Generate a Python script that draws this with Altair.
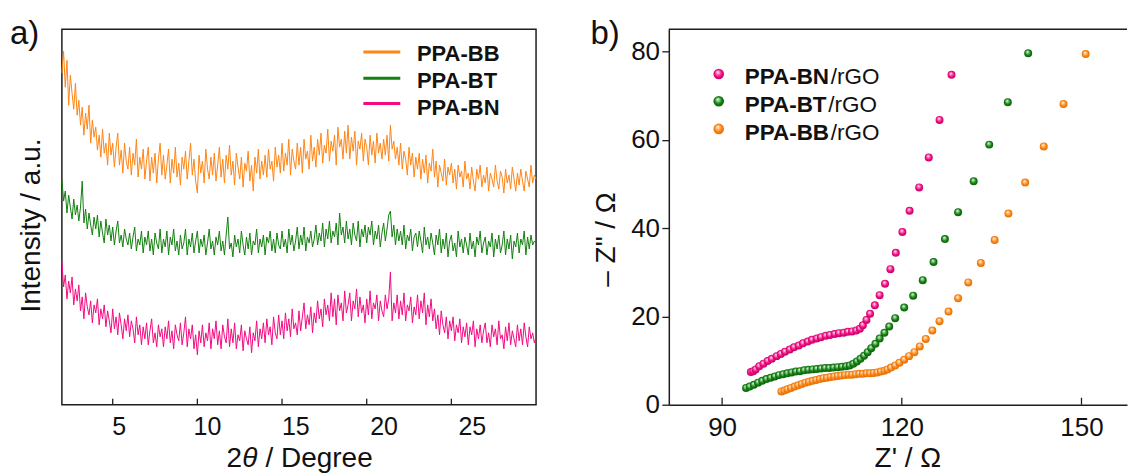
import altair as alt
import pandas as pd

FONT = "Liberation Sans"
AX = "#1e1e1e"
TXT = "#111111"

# ---------------- panel a: XRD patterns (2theta grid 2.0 .. 30.0, step 0.1) ----------------
TWO_THETA = [round(2.0 + 0.1 * i, 1) for i in range(281)]

XRD_BB = [
    332, 354, 318, 345, 300, 330, 312, 296, 322, 290,
    305, 280, 298, 270, 292, 276, 300, 262, 285, 268,
    278, 255, 270, 248, 276, 252, 262, 240, 272, 250,
    262, 238, 258, 272, 240, 255, 232, 262, 244, 236,
    258, 230, 252, 240, 266, 228, 248, 236, 256, 226,
    244, 258, 224, 248, 232, 252, 222, 246, 262, 230,
    250, 226, 240, 256, 222, 246, 232, 258, 228, 242,
    220, 248, 236, 254, 226, 244, 262, 230, 246, 224,
    212, 250, 232, 244, 222, 256, 236, 226, 248, 230,
    252, 224, 240, 258, 228, 246, 222, 250, 236, 260,
    230, 244, 220, 252, 238, 226, 248, 218, 242, 234,
    254, 224, 240, 214, 248, 232, 256, 226, 244, 230,
    250, 228, 256, 236, 244, 224, 258, 238, 250, 232,
    262, 234, 252, 240, 266, 230, 256, 244, 236, 262,
    240, 258, 232, 266, 246, 254, 236, 270, 244, 258,
    238, 266, 250, 272, 242, 260, 252, 276, 244, 264,
    254, 270, 240, 278, 258, 266, 246, 274, 252, 280,
    246, 268, 254, 274, 240, 264, 256, 272, 244, 266,
    258, 240, 270, 250, 264, 242, 272, 252, 262, 246,
    266, 250, 270, 244, 280, 256, 264, 246, 258, 240,
    262, 236, 254, 246, 230, 258, 240, 252, 228, 248,
    236, 252, 226, 246, 232, 250, 222, 242, 234, 256,
    228, 244, 218, 240, 232, 224, 246, 220, 238, 230,
    242, 222, 236, 216, 240, 228, 234, 218, 244, 226,
    232, 216, 238, 224, 214, 236, 226, 240, 218, 230,
    222, 238, 214, 232, 226, 218, 240, 224, 216, 234,
    228, 212, 236, 222, 230, 216, 238, 226, 214, 232,
    220, 236, 224, 214, 234, 226, 218, 240, 222, 230,
    226,
]
XRD_BT = [
    226, 204, 214, 192, 210, 198, 186, 206, 190, 200,
    184, 198, 224, 182, 196, 176, 192, 180, 170, 188,
    176, 190, 168, 184, 172, 162, 186, 170, 180, 164,
    178, 160, 174, 184, 162, 170, 158, 176, 166, 160,
    172, 156, 168, 178, 154, 166, 160, 174, 152, 168,
    160, 174, 154, 166, 150, 172, 162, 156, 176, 152,
    166, 158, 174, 150, 168, 160, 176, 154, 164, 150,
    170, 156, 162, 176, 150, 166, 158, 172, 152, 164,
    174, 152, 166, 158, 170, 150, 162, 176, 156, 164,
    150, 168, 160, 174, 154, 164, 150, 170, 188, 156,
    162, 148, 170, 158, 166, 152, 174, 160, 150, 168,
    156, 172, 150, 164, 160, 176, 152, 166, 158, 170,
    150, 168, 162, 174, 154, 166, 152, 172, 160, 156,
    174, 158, 166, 152, 176, 160, 170, 154, 164, 178,
    156, 170, 160, 178, 154, 168, 162, 174, 158, 166,
    180, 160, 172, 164, 182, 158, 176, 166, 184, 162,
    174, 168, 182, 160, 192, 170, 178, 162, 184, 166,
    176, 160, 182, 170, 164, 184, 158, 176, 168, 180,
    162, 178, 170, 184, 160, 174, 166, 180, 158, 172,
    182, 164, 176, 190, 194, 168, 180, 160, 176, 164,
    174, 160, 180, 156, 170, 164, 176, 154, 168, 172,
    158, 174, 164, 152, 178, 160, 168, 156, 172, 162,
    150, 170, 160, 176, 152, 166, 156, 172, 148, 164,
    170, 154, 162, 148, 174, 158, 166, 152, 168, 160,
    150, 172, 156, 164, 148, 168, 160, 174, 152, 162,
    168, 150, 164, 158, 172, 148, 166, 156, 170, 152,
    160, 174, 150, 166, 156, 170, 146, 164, 158, 172,
    152, 166, 160, 174, 150, 168, 156, 170, 160, 164,
    162,
]
XRD_BN = [
    144, 118, 130, 106, 124, 112, 128, 100, 116, 104,
    120, 94, 108, 86, 112, 98, 90, 104, 82, 100,
    92, 106, 80, 96, 86, 100, 78, 94, 84, 72,
    96, 76, 88, 70, 92, 80, 66, 86, 74, 90,
    68, 84, 76, 62, 88, 70, 80, 60, 78, 66,
    82, 60, 74, 86, 62, 72, 58, 80, 68, 76,
    58, 78, 66, 84, 62, 74, 56, 80, 70, 64,
    82, 60, 72, 88, 58, 76, 66, 80, 56, 70,
    50, 74, 62, 80, 58, 72, 64, 82, 56, 76,
    66, 84, 60, 74, 56, 80, 68, 62, 86, 58,
    76, 62, 82, 56, 70, 64, 80, 54, 74, 66,
    60, 78, 52, 72, 64, 84, 58, 76, 66, 82,
    62, 86, 70, 78, 60, 88, 72, 66, 90, 70,
    84, 66, 92, 74, 86, 68, 96, 76, 82, 70,
    94, 74, 88, 102, 76, 90, 80, 98, 72, 92,
    82, 104, 86, 96, 78, 106, 90, 100, 84, 112,
    88, 106, 80, 110, 94, 102, 84, 114, 92, 100,
    112, 84, 104, 96, 116, 88, 108, 92, 100, 82,
    106, 90, 114, 86, 102, 96, 110, 84, 104, 94,
    88, 110, 96, 106, 133, 84, 102, 92, 110, 86,
    104, 90, 112, 84, 100, 94, 108, 82, 98, 90,
    110, 86, 104, 92, 112, 80, 100, 88, 106, 84,
    96, 76, 90, 70, 94, 80, 72, 88, 66, 84,
    74, 88, 64, 80, 72, 86, 62, 78, 68, 82,
    60, 78, 70, 84, 58, 76, 66, 80, 62, 74,
    82, 62, 72, 58, 80, 68, 76, 60, 84, 66,
    70, 56, 78, 64, 82, 60, 74, 66, 58, 80,
    64, 76, 60, 82, 68, 58, 78, 66, 72, 62,
    68,
]
XRD_SERIES = ["PPA-BB", "PPA-BT", "PPA-BN"]
TICKS_A = [5, 10, 15, 20, 25]

# ---------------- panel b: Nyquist plots ----------------
BN_ZRE = [94.8, 95.2, 95.6, 96.2, 96.9, 97.6, 98.3, 99.1, 99.8, 100.5, 101.3, 102.0, 102.8, 103.5,
          104.3, 105.0, 105.8, 106.5, 107.3, 108.0, 108.8, 109.5, 110.3, 111.0, 111.7, 112.4,
          113.0, 113.5, 114.1, 114.7, 115.5, 116.3, 117.2, 118.1, 119.0, 120.1, 121.3, 122.9,
          124.5, 126.3, 128.3]
BN_ZIM = [7.4, 7.6, 8.0, 8.7, 9.3, 9.9, 10.4, 11.0, 11.5, 12.0, 12.5, 13.0, 13.4, 13.9,
          14.3, 14.7, 15.0, 15.3, 15.6, 15.8, 16.0, 16.2, 16.3, 16.5, 16.6, 16.8,
          17.2, 18.0, 19.2, 20.6, 22.5, 24.8, 27.4, 30.7, 34.4, 39.1, 43.9, 49.2,
          56.0, 64.5, 74.7]
BT_ZRE = [94.0, 94.6, 95.3, 96.0, 96.7, 97.4, 98.1, 98.8, 99.5, 100.2, 100.9, 101.6, 102.3, 103.0,
          103.7, 104.4, 105.1, 105.8, 106.5, 107.2, 107.9, 108.6, 109.3, 110.0, 110.7, 111.3,
          111.9, 112.5, 113.1, 113.7, 114.3, 114.9, 115.6, 116.3, 117.1, 117.9, 118.9, 120.4,
          121.9, 123.5, 125.3, 127.2, 129.4, 132.0, 134.6, 137.7, 141.1]
BT_ZIM = [3.8, 4.1, 4.5, 5.0, 5.4, 5.8, 6.1, 6.4, 6.7, 6.9, 7.1, 7.3, 7.5, 7.6,
          7.8, 7.9, 8.0, 8.1, 8.2, 8.3, 8.3, 8.4, 8.5, 8.6, 8.7, 8.9,
          9.3, 9.8, 10.4, 11.1, 11.9, 12.8, 13.8, 15.0, 16.3, 17.7, 19.6, 22.0,
          24.7, 28.2, 32.3, 37.5, 43.6, 50.6, 58.9, 68.5, 79.6]
BB_ZRE = [99.9, 100.4, 100.9, 101.5, 102.1, 102.7, 103.3, 103.9, 104.5, 105.1, 105.7, 106.3,
          106.9, 107.5, 108.1, 108.7, 109.3, 109.9, 110.5, 111.1, 111.7, 112.3, 112.9, 113.5,
          114.1, 114.7, 115.3, 115.9, 116.5, 117.1, 117.6, 118.2, 118.9, 119.6, 120.4, 121.2,
          122.1, 123.0, 124.0, 125.1, 126.3, 127.8, 129.4, 131.1, 133.2, 135.5, 137.8, 140.6,
          143.7, 147.0, 150.7]
BB_ZIM = [3.0, 3.2, 3.5, 3.8, 4.1, 4.4, 4.7, 5.0, 5.2, 5.4, 5.6, 5.8,
          6.0, 6.1, 6.3, 6.4, 6.5, 6.6, 6.7, 6.8, 6.8, 6.9, 7.0, 7.0,
          7.1, 7.1, 7.2, 7.3, 7.5, 7.7, 8.0, 8.4, 8.9, 9.5, 10.2, 11.0,
          11.9, 13.2, 14.9, 16.8, 18.9, 21.1, 24.1, 27.7, 32.1, 37.3, 43.3, 50.3,
          58.5, 68.1, 79.4]
NYQ_SERIES = ["PPA-BN", "PPA-BT", "PPA-BB"]
TICKS_BX = [90, 120, 150]
TICKS_BY = [0, 20, 40, 60, 80]

# ---------------- styling ----------------
COLOR = {"PPA-BB": "#FF8514", "PPA-BT": "#13800F", "PPA-BN": "#F40A82"}
LIGHT = {"PPA-BB": "#FFD2A0", "PPA-BT": "#9BD99B", "PPA-BN": "#FF9DCF"}
DARK = {"PPA-BB": "#D86A00", "PPA-BT": "#0A5C0A", "PPA-BN": "#B8005E"}

W_A, H_A = 475, 376
W_B, H_B = 459, 376

ONE = pd.DataFrame({"k": [0]})

# Arial/Liberation Sans Bold advance widths (em) for the legend glyphs
BOLD_W = {"P": 0.667, "A": 0.722, "-": 0.333, "B": 0.722, "N": 0.722, "T": 0.611}


def txt(s, x, y, size, weight="normal", style="normal", align="left", color=TXT):
    return alt.Chart(ONE).mark_text(
        text=s, font=FONT, fontSize=size, fontWeight=weight, fontStyle=style,
        align=align, baseline="alphabetic", color=color,
    ).encode(x=alt.value(x), y=alt.value(y))


def sphere(name):
    return {
        "gradient": "radial",
        "stops": [
            {"offset": 0.0, "color": "#ffffff"},
            {"offset": 0.22, "color": LIGHT[name]},
            {"offset": 0.6, "color": COLOR[name]},
            {"offset": 1.0, "color": DARK[name]},
        ],
        "x1": 0.4, "y1": 0.3, "r1": 0.0,
        "x2": 0.5, "y2": 0.5, "r2": 0.55,
    }


# ---------------- panel a ----------------
xrd_rows = []
for name, vals in zip(XRD_SERIES, [XRD_BB, XRD_BT, XRD_BN]):
    for t, v in zip(TWO_THETA, vals):
        xrd_rows.append({"theta": t, "intensity": v, "series": name})
xrd_df = pd.DataFrame(xrd_rows)

xa = alt.Scale(domain=[2, 30], nice=False, zero=False)
ya = alt.Scale(domain=[0, 376], nice=False, zero=False)

lines = alt.Chart(xrd_df).mark_line(strokeWidth=1.0, strokeJoin="round").encode(
    x=alt.X("theta:Q", scale=xa, axis=None),
    y=alt.Y("intensity:Q", scale=ya, axis=alt.Axis(
        title="Intensity / a.u.", labels=False, ticks=False, domain=False, grid=False,
        titleFontSize=28, titlePadding=16, titleY=196)),
    color=alt.Color("series:N", scale=alt.Scale(domain=XRD_SERIES,
                    range=[COLOR[s] for s in XRD_SERIES]), legend=None),
)

ticks_a = alt.Chart(pd.DataFrame({"t": TICKS_A})).mark_rule(color=AX, strokeWidth=1.3).encode(
    x=alt.X("t:Q", scale=xa, axis=None), y=alt.value(H_A), y2=alt.value(H_A - 6))

# tick labels of panel a sit on their own (slightly wider) spacing in the reference
labels_a = alt.Chart(pd.DataFrame({"t": TICKS_A})).mark_point(opacity=0).encode(
    x=alt.X("t:Q", scale=alt.Scale(domain=[1.78, 28.64], nice=False, zero=False),
            axis=alt.Axis(values=TICKS_A, orient="bottom", domain=False, ticks=False, grid=False,
                          labelFontSize=25, labelPadding=9.5, title=None)),
    y=alt.value(0))

legend_a = []
for i, name in enumerate(XRD_SERIES):
    ly = [22.7, 49.0, 74.3][i]
    legend_a.append(alt.Chart(ONE).mark_rule(color=COLOR[name], strokeWidth=3).encode(
        x=alt.value(302), x2=alt.value(339), y=alt.value(ly)))
    legend_a.append(txt(name, 355.7, [31.5, 59.0, 86.0][i], 22, weight="bold"))

title_a = [
    txt("2", 165, 438.5, 28),
    txt("θ", 180.6, 438.5, 28, style="italic"),
    txt("/ Degree", 204.0, 438.5, 28),
    txt("a)", -52, 15, 33),
]

panel_a = alt.layer(lines, ticks_a, labels_a, *legend_a, *title_a).resolve_scale(
    x="independent").properties(
    width=W_A, height=H_A, view=alt.ViewBackground(stroke=AX, strokeWidth=1.5))

# ---------------- panel b ----------------
xb = alt.Scale(domain=[81.1, 157.6], nice=False, zero=False)
yb = alt.Scale(domain=[0, 85], nice=False, zero=False)

xax_b = alt.Axis(values=TICKS_BX, ticks=False, domain=True, domainColor=AX, domainWidth=1.5,
                 grid=False, labelFontSize=26, labelPadding=9.5,
                 title="Z' / Ω", titleFontSize=28, titleX=239, titleY=62,
                 titleBaseline="alphabetic")
yax_b = alt.Axis(values=TICKS_BY, ticks=True, tickSize=7, tickColor=AX, tickWidth=1.3,
                 domain=True, domainColor=AX, domainWidth=1.5, grid=False,
                 labelFontSize=26, labelPadding=2.3,
                 title='– Z" / Ω', titleFontSize=28, titlePadding=10, titleY=210)

point_layers = []
for name, zre, zim in zip(NYQ_SERIES, [BN_ZRE, BT_ZRE, BB_ZRE], [BN_ZIM, BT_ZIM, BB_ZIM]):
    df = pd.DataFrame({"zre": zre, "zim": zim})
    point_layers.append(alt.Chart(df).mark_circle(size=64, opacity=1, fill=sphere(name)).encode(
        x=alt.X("zre:Q", scale=xb, axis=xax_b),
        y=alt.Y("zim:Q", scale=yb, axis=yax_b)))

ticks_b = alt.Chart(pd.DataFrame({"t": TICKS_BX})).mark_rule(color=AX, strokeWidth=1.3).encode(
    x=alt.X("t:Q", scale=xb, axis=xax_b), y=alt.value(H_B), y2=alt.value(H_B - 7))

top_b = alt.Chart(ONE).mark_rule(color=AX, strokeWidth=1.5).encode(
    x=alt.value(0), x2=alt.value(W_B), y=alt.value(0))

legend_b = []
for i, name in enumerate(NYQ_SERIES):
    cy = [44.7, 72.0, 99.7][i]
    by = [55.0, 82.5, 110.5][i]
    legend_b.append(alt.Chart(ONE).mark_circle(size=113, opacity=1, fill=sphere(name)).encode(
        x=alt.value(50), y=alt.value(cy)))
    bold_w = sum(BOLD_W[c] for c in name) * 22.5
    legend_b.append(txt(name, 76, by, 22.5, weight="bold"))
    legend_b.append(txt("/rGO", 76 + bold_w, by, 22.5))

panel_b = alt.layer(*point_layers, ticks_b, top_b, *legend_b, txt("b)", -78.5, 15, 33)).properties(
    width=W_B, height=H_B, view=alt.ViewBackground(stroke="transparent"))

chart = alt.hconcat(panel_a, panel_b, spacing=133).properties(
    padding={"left": 9, "top": 17, "right": 0, "bottom": 0}, bounds="flush",
).configure_axis(
    labelFont=FONT, titleFont=FONT, labelColor=TXT, titleColor=TXT, titleFontWeight="normal",
).configure_view(stroke="transparent")

chart.save("out.html", embed_options={"renderer": "svg", "actions": False})
